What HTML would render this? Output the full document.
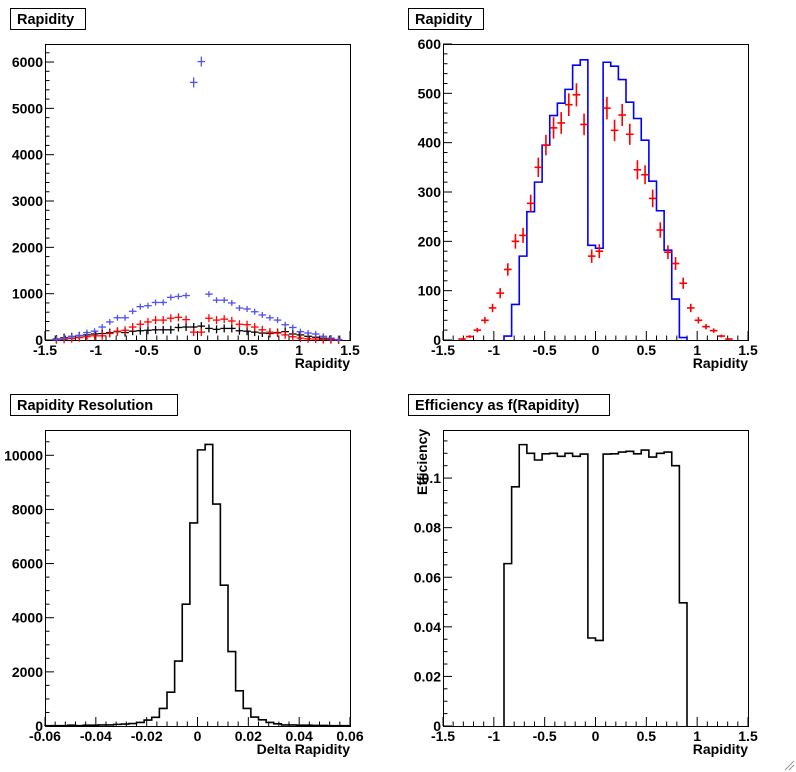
<!DOCTYPE html>
<html><head><meta charset="utf-8"><style>
body{margin:0;background:#fff;width:796px;height:772px;overflow:hidden}
svg{display:block}
text{font-family:"Liberation Sans",Arial,sans-serif;font-weight:bold;fill:#000}
</style></head><body>
<svg id="s" width="796" height="772" xmlns="http://www.w3.org/2000/svg"></svg>
<script>
const S=document.getElementById('s');let out='';
function add(x){out+=x;}
function panel(ox,oy,xmin,xmax,ymax,xmaj,xminN,ymaj,yminN,xlabels,ylabels,title,tw,xt){
  const X0=ox+45,X1=ox+350,Y0=oy+340,Y1=oy+44;
  const fx=v=>X0+(v-xmin)/(xmax-xmin)*(X1-X0), fy=v=>Y0-v/ymax*(Y0-Y1);
  add(`<rect x="${ox+10.5}" y="${oy+8.5}" width="${tw}" height="21" fill="#fff" stroke="#000"/>`);
  add(`<text x="${ox+17}" y="${oy+24}" font-size="14.5">${title}</text>`);
  add(`<rect x="${X0+.5}" y="${Y1+.5}" width="${X1-X0}" height="${Y0-Y1}" fill="none" stroke="#000"/>`);
  for(let v=xmin;v<=xmax+1e-9;v+=xmaj/xminN){const maj=Math.abs(Math.round((v-xmin)/xmaj)-(v-xmin)/xmaj)<1e-6;
    const x=fx(v);add(`<line x1="${x}" x2="${x}" y1="${Y0}" y2="${Y0-(maj?9:4.5)}" stroke="#000"/>`);}
  for(let v=0;v<=ymax+1e-9;v+=ymaj/yminN){const maj=Math.abs(Math.round(v/ymaj)-v/ymaj)<1e-6;
    const y=fy(v);add(`<line x1="${X0}" x2="${X0+(maj?9:4.5)}" y1="${y}" y2="${y}" stroke="#000"/>`);}
  xlabels.forEach(([v,t])=>add(`<text x="${fx(v)}" y="${Y0+15}" font-size="14" text-anchor="middle">${t}</text>`));
  ylabels.forEach(([v,t])=>add(`<text x="${X0-2}" y="${fy(v)+5}" font-size="14" text-anchor="end">${t}</text>`));
  add(`<text x="${X1}" y="${Y0+28}" font-size="14" text-anchor="end">${xt}</text>`);
  return {fx,fy};
}
function step(p,edges0,w,vals,col){let d='';let x=edges0;
  vals.forEach((v,i)=>{const xa=p.fx(x),xb=p.fx(x+w),y=p.fy(v);d+=(i==0?`M${xa},${p.fy(0)}L${xa},${y}`:`L${xa},${y}`)+`L${xb},${y}`;x+=w;});
  d+=`L${p.fx(x)},${p.fy(0)}`;add(`<path d="${d}" fill="none" stroke="${col}" stroke-width="1.6"/>`);}
function pts(p,c0,w,vals,col,err,sw){vals.forEach((v,i)=>{const c=c0+i*w;const y=p.fy(v);
  add(`<line x1="${p.fx(c-w/2)}" x2="${p.fx(c+w/2)}" y1="${y}" y2="${y}" stroke="${col}" stroke-width="${sw}"/>`);
  const e=err?err(v):4;add(`<line x1="${p.fx(c)}" x2="${p.fx(c)}" y1="${y-e}" y2="${y+e}" stroke="${col}" stroke-width="${sw}"/>`);});}
const rx=[[-1.5,'-1.5'],[-1,'-1'],[-0.5,'-0.5'],[0,'0'],[0.5,'0.5'],[1,'1'],[1.5,'1.5']];
let p=panel(0,0,-1.5,1.5,6389,0.5,5,1000,5,rx,[[0,'0'],[1000,'1000'],[2000,'2000'],[3000,'3000'],[4000,'4000'],[5000,'5000'],[6000,'6000']],'Rapidity',75,'Rapidity');
const blue1=[10,40,80,100,160,190,280,390,480,480,620,720,740,810,810,920,940,960,5560,6010,990,860,860,800,690,670,610,540,480,430,330,270,180,150,130,80,40,10];
const red1=[5,15,30,50,70,90,90,140,190,210,280,340,390,430,430,470,490,440,170,170,470,430,450,410,340,330,280,220,170,150,110,70,40,25,20,10,5,2];
const blk1=[20,50,70,90,110,130,140,160,180,160,190,200,210,220,220,220,270,280,280,300,250,230,250,250,200,190,170,150,140,160,180,130,110,80,60,40,20,5];
pts(p,-1.3875,0.075,blk1,'#000',null,1.3);
pts(p,-1.3875,0.075,red1,'#f00',null,1.3);
pts(p,-1.3875,0.075,blue1,'#5050f0',v=>v>3000?5:3,1.3);
p=panel(398,0,-1.5,1.5,600,0.5,5,100,5,rx,[[0,'0'],[100,'100'],[200,'200'],[300,'300'],[400,'400'],[500,'500'],[600,'600']],'Rapidity',75,'Rapidity');
step(p,-0.9,0.075,[8,72,170,260,320,395,455,480,508,557,568,192,186,563,555,528,482,449,405,322,262,182,83,5],'#00f');
const red2=[2,7,20,40,65,95,143,200,212,277,350,395,430,440,477,497,437,170,180,470,425,456,417,345,335,287,223,178,155,115,65,40,27,19,8,2];
pts(p,-1.3125,0.075,red2,'#f00',v=>Math.sqrt(v)*1.05*0.4933,1.6);
p=panel(0,386,-0.06,0.06,10934,0.02,5,2000,4,[[-0.06,'-0.06'],[-0.04,'-0.04'],[-0.02,'-0.02'],[0,'0'],[0.02,'0.02'],[0.04,'0.04'],[0.06,'0.06']],[[0,'0'],[2000,'2000'],[4000,'4000'],[6000,'6000'],[8000,'8000'],[10000,'10000']],'Rapidity Resolution',167,'Delta Rapidity');
step(p,-0.06,0.003,[10,10,10,30,10,30,30,40,40,60,70,90,130,220,320,650,1250,2400,4500,7500,10200,10400,8200,5200,2750,1300,650,330,230,130,80,40,40,30,30,20,20,10,10,10],'#000');
p=panel(398,386,-1.5,1.5,0.1194,0.5,5,0.02,4,rx,[[0,'0'],[0.02,'0.02'],[0.04,'0.04'],[0.06,'0.06'],[0.08,'0.08'],[0.1,'0.1']],'Efficiency as f(Rapidity)',201,'Rapidity');
step(p,-0.9,0.075,[0.0655,0.0965,0.1135,0.110,0.1073,0.1098,0.110,0.1088,0.110,0.1088,0.1097,0.0355,0.0345,0.1097,0.1098,0.1105,0.1108,0.1098,0.1113,0.1085,0.110,0.1105,0.1050,0.0497],'#000');
add(`<text transform="translate(427,495) rotate(-90)" font-size="14">Efficiency</text>`);
add(`<path d="M785 770L794 761M789 770L794 765" stroke="#999"/>`);
S.innerHTML=out;
</script>
</body></html>
